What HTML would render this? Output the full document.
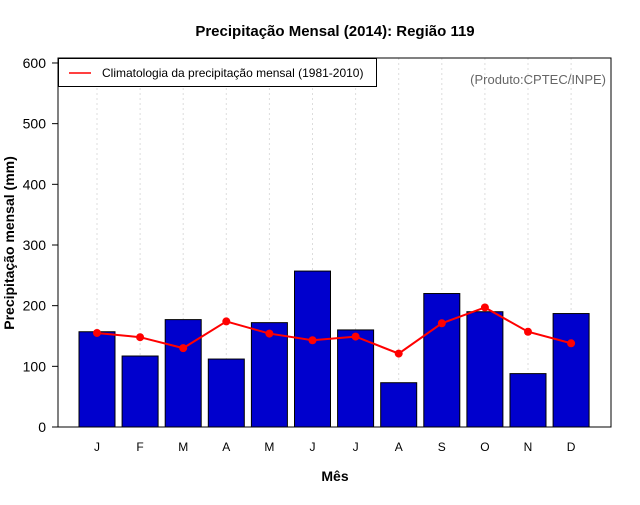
<!DOCTYPE html>
<html><head><meta charset="utf-8"><style>
body{margin:0;background:#fff;}
svg text{font-family:"Liberation Sans",sans-serif;}
</style></head><body>
<svg id="c" width="640" height="500" xmlns="http://www.w3.org/2000/svg">
<text x="335" y="36" text-anchor="middle" font-size="15" font-weight="bold">Precipitação Mensal (2014): Região 119</text>
<text x="335" y="481" text-anchor="middle" font-size="14" font-weight="bold">Mês</text>
<text transform="translate(14,243) rotate(-90)" text-anchor="middle" font-size="14" font-weight="bold">Precipitação mensal (mm)</text>
<g id="grid"></g><g id="bars"></g><g id="line"></g><g id="axes"></g>
<rect x="58" y="58" width="553" height="369" fill="none" stroke="#000" stroke-width="1"/>
<g>
<rect x="58.5" y="58.5" width="318" height="28" fill="#fff" stroke="#000" stroke-width="1"/>
<line x1="69" y1="73" x2="91" y2="73" stroke="#f00" stroke-width="1.5"/>
<text x="102" y="77" font-size="12">Climatologia da precipitação mensal (1981-2010)</text>
</g>
<text x="606" y="84" text-anchor="end" font-size="13" fill="#666">(Produto:CPTEC/INPE)</text>
</svg>
<script>
const months=["J","F","M","A","M","J","J","A","S","O","N","D"];
const precip=[157,117,177,112,172,257,160,73,220,190,88,187];
const clim=[155,148,130,174,154,143,149,121,171,197,157,138];
const yTicks=[0,100,200,300,400,500,600];
const NS="http://www.w3.org/2000/svg";
const xs=i=>97+i*43.1;
const ys=v=>427-v*0.6067;
function mk(t,a,p){const e=document.createElementNS(NS,t);for(const k in a)e.setAttribute(k,a[k]);p.appendChild(e);return e;}
const g=document.getElementById('grid'),b=document.getElementById('bars'),l=document.getElementById('line'),ax=document.getElementById('axes');
months.forEach((m,i)=>{
 const gl=mk('line',{x1:xs(i),x2:xs(i),y1:58,y2:427,stroke:'#ddd','stroke-dasharray':'2,3'},g);
 
 
 const r=mk('rect',{x:xs(i)-18,y:ys(precip[i]),width:36,height:427-ys(precip[i]),fill:'#0000cd',stroke:'#000','stroke-width':1},b);
 
 
 const t=mk('text',{x:xs(i),y:451,'text-anchor':'middle','font-size':12},ax);
 t.textContent=m;
 
 
});
const pl=mk('polyline',{points:clim.map((v,i)=>xs(i)+','+ys(v)).join(' '),fill:'none',stroke:'#f00','stroke-width':2},l);


clim.forEach((v,i)=>{
 const c=mk('circle',{cx:xs(i),cy:ys(v),r:4,fill:'#f00'},l);
 
 
});
yTicks.forEach(v=>{
 const tk=mk('line',{x1:52,x2:58,y1:ys(v),y2:ys(v),stroke:'#000'},ax);
 
 
 const t=mk('text',{x:46,y:ys(v)+5,'text-anchor':'end','font-size':14},ax);
 t.textContent=v;
 
 
});
</script>
</body></html>
